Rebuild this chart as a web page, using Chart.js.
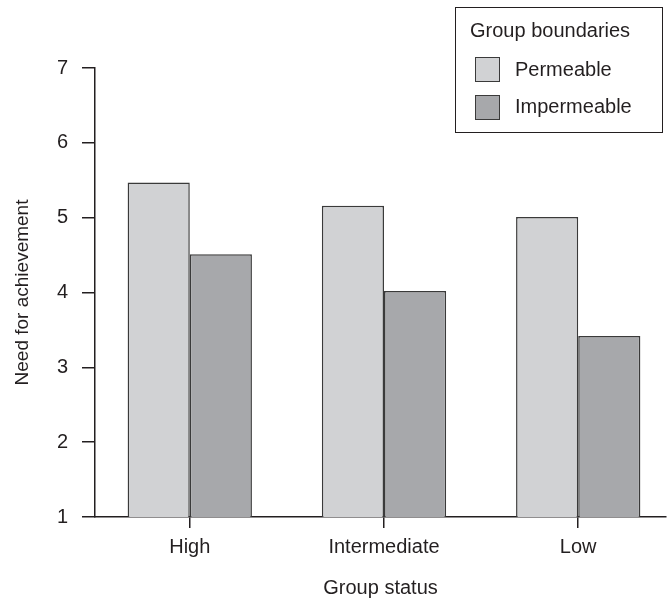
<!DOCTYPE html>
<html>
<head>
<meta charset="utf-8">
<script src="https://cdn.jsdelivr.net/npm/chart.js@4"></script>
<style>
  html, body { margin: 0; padding: 0; background: #fff; }
  #wrap { width: 667px; height: 598px; position: relative; }
</style>
</head>
<body>
<div id="wrap"><canvas id="achievementChart"></canvas></div>
<script>
// Chart data
const categories = ["High", "Intermediate", "Low"];
const permeable = [5.47, 5.16, 5.01];
const impermeable = [4.51, 4.02, 3.42];
const yTicks = [1, 2, 3, 4, 5, 6, 7];
const seriesNames = ["Permeable", "Impermeable"];
const legendTitle = "Group boundaries";

const FONT = "'Liberation Sans', Arial, Helvetica, sans-serif";
const INK = "#231f20";
const colors = ["#d1d2d4", "#a7a8ab"];

// bars sit on a linear x axis so group spacing can match the original
const toPoints = (vals) => vals.map((v, i) => ({ x: i + 1, y: v }));

// Legend drawn as a boxed panel in the top right
const boxedLegend = {
  id: "boxedLegend",
  afterDraw(chart) {
    const ctx = chart.ctx;
    ctx.save();
    ctx.strokeStyle = INK;
    ctx.lineWidth = 1;
    ctx.strokeRect(455.5, 7.5, 207, 125);
    ctx.fillStyle = INK;
    ctx.font = "20px " + FONT;
    ctx.textBaseline = "alphabetic";
    ctx.fillText(legendTitle, 470, 37);
    chart.data.datasets.forEach((ds, i) => {
      const y = 57.5 + i * 38;
      ctx.fillStyle = ds.backgroundColor;
      ctx.fillRect(475.5, y, 24, 24);
      ctx.strokeStyle = "#3a3a3a";
      ctx.strokeRect(475.5, y, 24, 24);
      ctx.fillStyle = INK;
      ctx.fillText(ds.label, 515, 76 + i * 37);
    });
    ctx.restore();
  }
};

const ctx = document.getElementById("achievementChart").getContext("2d");
new Chart(ctx, {
  type: "bar",
  data: {
    datasets: [
      {
        label: seriesNames[0],
        data: toPoints(permeable),
        backgroundColor: colors[0],
        borderColor: "#3a3a3a",
        borderWidth: 1.5,
      },
      {
        label: seriesNames[1],
        data: toPoints(impermeable),
        backgroundColor: colors[1],
        borderColor: "#3a3a3a",
        borderWidth: 1.5,
      },
    ],
  },
  options: {
    responsive: true,
    maintainAspectRatio: false,
    animation: false,
    layout: { padding: { top: 68, right: 1, left: 0, bottom: 0 } },
    datasets: { bar: { categoryPercentage: 0.64, barPercentage: 1 } },
    plugins: {
      legend: { display: false },
      tooltip: { enabled: false },
    },
    scales: {
      x: {
        type: "linear",
        offset: false,
        min: 0.512,
        max: 3.452,
        afterBuildTicks: (axis) => {
          axis.ticks = categories.map((c, i) => ({ value: i + 1 }));
        },
        afterFit: (axis) => { axis.height = 81; },
        border: { display: true, color: INK, width: 1.5 },
        grid: { offset: false, drawOnChartArea: false, drawTicks: true, tickLength: 11, color: INK, lineWidth: 1.5 },
        ticks: {
          color: INK,
          font: { family: FONT, size: 20 },
          padding: 7,
          maxRotation: 0,
          callback: (v) => categories[v - 1],
        },
        title: {
          display: true,
          text: "Group status",
          color: INK,
          font: { family: FONT, size: 20 },
          padding: { top: 11, bottom: -2 },
        },
      },
      y: {
        min: 1,
        max: 7,
        afterBuildTicks: (axis) => {
          axis.ticks = yTicks.map((t) => ({ value: t }));
        },
        afterFit: (axis) => { axis.width = 95; },
        border: { display: true, color: INK, width: 1.5 },
        grid: { drawOnChartArea: false, drawTicks: true, tickLength: 13, color: INK, lineWidth: 1.5 },
        ticks: {
          color: INK,
          font: { family: FONT, size: 20 },
          padding: 14,
        },
        title: {
          display: true,
          text: "Need for achievement",
          color: INK,
          font: { family: FONT, size: 19 },
          padding: { top: 11, bottom: 4 },
        },
      },
    },
  },
  plugins: [boxedLegend],
});
</script>
</body>
</html>
